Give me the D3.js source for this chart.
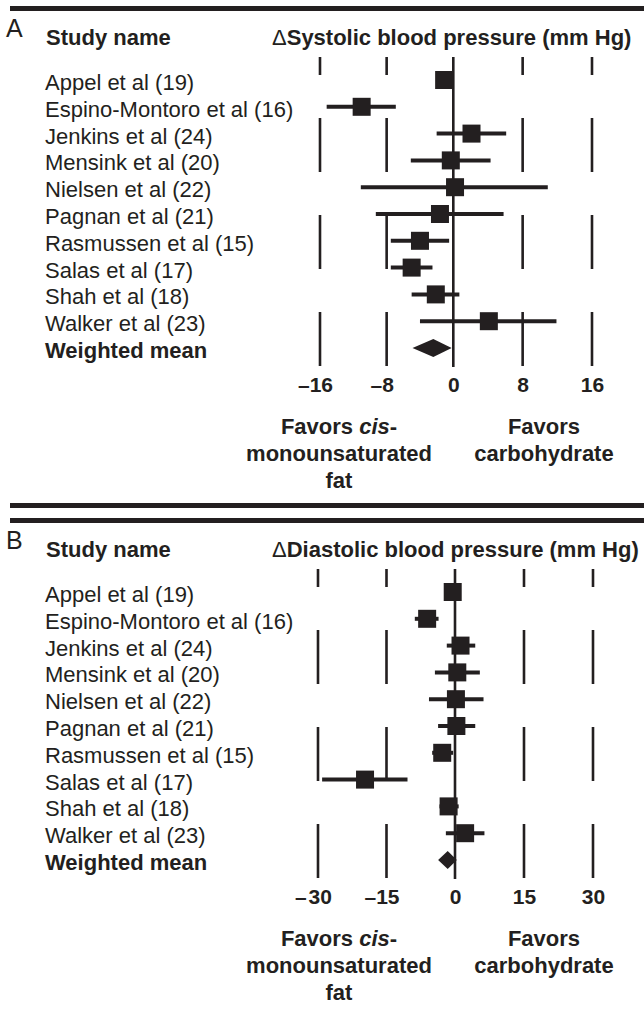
<!DOCTYPE html>
<html><head><meta charset="utf-8">
<script src="https://cdn.jsdelivr.net/npm/d3@7"></script>
<style>
body{margin:0;background:#fff}
svg{display:block}
text{font-family:"Liberation Sans",Arial,Helvetica,sans-serif;fill:#231f20}
</style>
</head><body>
<svg id="chart" width="644" height="1012"></svg>
<script>
// ---------- data ----------
const studies = [
  "Appel et al (19)",
  "Espino-Montoro et al (16)",
  "Jenkins et al (24)",
  "Mensink et al (20)",
  "Nielsen et al (22)",
  "Pagnan et al (21)",
  "Rasmussen et al (15)",
  "Salas et al (17)",
  "Shah et al (18)",
  "Walker et al (23)"
];
const pooledLabel = "Weighted mean";

// Panel A: change in systolic blood pressure (mm Hg)
const sbpMean = [-1.1, -11.0, 2.1, -0.3, 0.2, -1.6, -4.0, -5.0, -2.1, 4.1];
const sbpLow  = [-1.9, -15.2, -2.0, -5.1, -11.1, -9.3, -7.5, -7.5, -5.0, -4.0];
const sbpHigh = [-0.3, -6.9, 6.1, 4.3, 10.9, 5.8, -0.5, -2.5, 0.7, 11.9];
const sbpPooled = [-2.4, -4.9, -0.2]; // mean, low, high
const sbpTicks = [-16, -8, 0, 8, 16];
const sbpTickLabels = ["\u201316", "\u20138", "0", "8", "16"];

// Panel B: change in diastolic blood pressure (mm Hg)
const dbpMean = [-0.5, -6.1, 1.2, 0.5, 0.2, 0.3, -2.8, -19.7, -1.4, 2.2];
const dbpLow  = [-1.4, -8.8, -1.8, -4.4, -5.7, -3.7, -5.0, -29.1, -3.4, -2.0];
const dbpHigh = [0.4, -3.6, 4.4, 5.4, 6.2, 4.4, -0.4, -10.4, 0.8, 6.4];
const dbpPooled = [-1.6, -3.7, 0.4];
const dbpTicks = [-30, -15, 0, 15, 30];
const dbpTickLabels = ["\u2013\u200a30", "\u201315", "0", "15", "30"];

// ---------- drawing ----------
const INK = "#231f20";
const svg = d3.select("#chart");

function panel(off, letter, titleWord, xScale, ticks, tickLabels, mean, low, high, pooled) {
  const g = svg.append("g").attr("transform", `translate(0,${off})`);

  g.append("rect").attr("x", 10).attr("y", 6).attr("width", 634).attr("height", 5).attr("fill", INK);

  g.append("text").attr("x", 6).attr("y", 37).attr("font-size", 25).text(letter);
  g.append("text").attr("x", 46).attr("y", 45).attr("font-size", 22).attr("font-weight", "bold").text("Study name");
  const t = g.append("text").attr("x", 272).attr("y", 45).attr("font-size", 22).attr("font-weight", "bold");
  t.append("tspan").attr("font-weight", "normal").text("\u0394");
  t.append("tspan").text(titleWord + " blood pressure (mm Hg)");

  const rows = [...studies, pooledLabel];
  const y = d3.scalePoint().domain(rows).range([80, 348]);

  g.selectAll("text.lab").data(rows).join("text")
    .attr("class", "lab")
    .attr("x", 45).attr("y", d => y(d) + 10)
    .attr("font-size", 22)
    .attr("font-weight", d => d === pooledLabel ? "bold" : "normal")
    .text(d => d);

  // dashed reference lines
  g.selectAll("line.grid").data(ticks.filter(v => v !== 0)).join("line")
    .attr("class", "grid")
    .attr("x1", d => xScale(d)).attr("x2", d => xScale(d))
    .attr("y1", 57).attr("y2", 367)
    .attr("stroke", INK).attr("stroke-width", 2.6)
    .attr("stroke-dasharray", "54 43").attr("stroke-dashoffset", 36);
  g.append("line")
    .attr("x1", xScale(0)).attr("x2", xScale(0))
    .attr("y1", 57).attr("y2", 367)
    .attr("stroke", INK).attr("stroke-width", 2.6);

  // CIs
  g.selectAll("line.ci").data(studies).join("line")
    .attr("class", "ci")
    .attr("x1", (d, i) => xScale(low[i])).attr("x2", (d, i) => xScale(high[i]))
    .attr("y1", d => y(d)).attr("y2", d => y(d))
    .attr("stroke", INK).attr("stroke-width", 4);

  // boxes
  const bs = 18;
  g.selectAll("rect.box").data(studies).join("rect")
    .attr("class", "box")
    .attr("x", (d, i) => xScale(mean[i]) - bs / 2)
    .attr("y", d => y(d) - bs / 2)
    .attr("width", bs).attr("height", bs)
    .attr("fill", INK);

  // diamond
  const yp = y(pooledLabel);
  g.append("path")
    .attr("d", `M${xScale(pooled[1])},${yp}L${xScale(pooled[0])},${yp - 9}L${xScale(pooled[2])},${yp}L${xScale(pooled[0])},${yp + 9}Z`)
    .attr("fill", INK);

  // axis labels
  const ax = g.append("g").attr("transform", "translate(0,374)")
    .call(d3.axisBottom(xScale).tickValues(ticks).tickSize(0).tickFormat((d, i) => tickLabels[i]));
  ax.select(".domain").remove();
  ax.attr("font-family", null).attr("font-size", null);
  ax.selectAll("text")
    .attr("font-size", 21).attr("font-weight", "bold").attr("fill", INK)
    .attr("dx", d => d < 0 ? -5 : 0);

  // direction captions
  const l1 = g.append("text").attr("x", 339).attr("y", 434).attr("text-anchor", "middle")
    .attr("font-size", 22).attr("font-weight", "bold");
  l1.append("tspan").text("Favors ");
  l1.append("tspan").attr("font-style", "italic").text("cis");
  l1.append("tspan").text("-");
  g.append("text").attr("x", 339).attr("y", 461).attr("text-anchor", "middle")
    .attr("font-size", 22).attr("font-weight", "bold").text("monounsaturated");
  g.append("text").attr("x", 339).attr("y", 488).attr("text-anchor", "middle")
    .attr("font-size", 22).attr("font-weight", "bold").text("fat");
  g.append("text").attr("x", 544).attr("y", 434).attr("text-anchor", "middle")
    .attr("font-size", 22).attr("font-weight", "bold").text("Favors");
  g.append("text").attr("x", 544).attr("y", 461).attr("text-anchor", "middle")
    .attr("font-size", 22).attr("font-weight", "bold").text("carbohydrate");
}

const xA = d3.scaleLinear().domain([-16, 0, 16]).range([320, 453.3, 592]);
const xB = d3.scaleLinear().domain([-30, 0, 30]).range([318, 455, 593]);

panel(0, "A", "Systolic", xA, sbpTicks, sbpTickLabels, sbpMean, sbpLow, sbpHigh, sbpPooled);
// bottom rule of panel A
svg.append("rect").attr("x", 10).attr("y", 503).attr("width", 634).attr("height", 5).attr("fill", INK);
panel(512, "B", "Diastolic", xB, dbpTicks, dbpTickLabels, dbpMean, dbpLow, dbpHigh, dbpPooled);
</script>
</body></html>
